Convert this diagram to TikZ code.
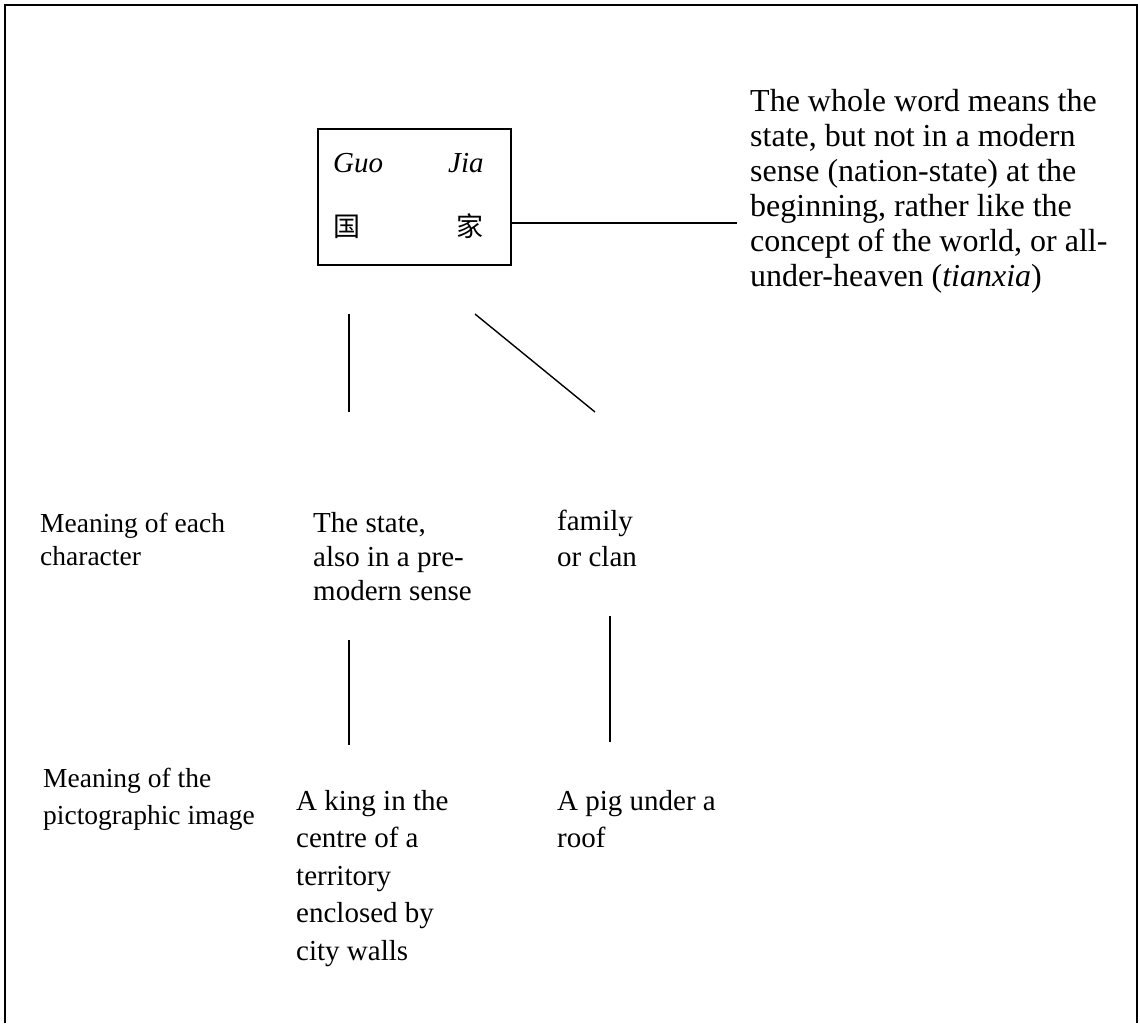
\documentclass[tikz,border=0pt]{standalone}
\usepackage{fontspec}
\setmainfont{Liberation Serif}
\newfontfamily\cjk{Noto Sans CJK SC}
\begin{document}
\begin{tikzpicture}[x=1pt,y=-1pt,
  txt/.style={anchor=base west,inner sep=0pt,align=left},
  big/.style={txt,font=\fontsize{32}{35}\selectfont},
  mid/.style={txt,font=\fontsize{29}{34}\selectfont},
  low/.style={txt,font=\fontsize{29}{37.5}\selectfont},
  lab/.style={txt,font=\fontsize{27.5}{33}\selectfont},
  conn/.style={line width=1.4pt},
  frame/.style={line width=2.5pt}]
\useasboundingbox (0,0) rectangle (1140,1023);
\draw[frame] (5,1023) -- (5,5) -- (1137,5) -- (1137,1023);
% word box
\node[draw,line width=1.6pt,minimum width=193pt,minimum height=136pt,inner sep=0pt,anchor=north west] (box) at (317,128) {};
\node[txt,font=\fontsize{29}{35}\selectfont\itshape] (guo) at (333,172) {Guo};
\node[txt,font=\fontsize{29}{35}\selectfont\itshape] (jia) at (448,172) {Jia};
\node[txt,font=\fontsize{27}{35}\cjk] (guoc) at (333,236) {国};
\node[txt,font=\fontsize{27}{35}\cjk] (jiac) at (456,236) {家};
% whole word meaning (anchor: baseline of last line)
\node[big] (whole) at (750,286) {The whole word means the\\state, but not in a modern\\sense (nation-state) at the\\beginning, rather like the\\concept of the world, or all-\\under-heaven (\textit{tianxia})};
\coordinate (wend) at (737,223);
\draw[conn] (box.east |- wend) -- (wend);
% connectors from box
\coordinate (v1a) at (349,314);
\coordinate (v1b) at (349,412);
\coordinate (d1a) at (475,314);
\coordinate (d1b) at (595,412);
\draw[conn] (v1a) -- (v1b);
\draw[conn] (d1a) -- (d1b);
% row 2
\node[lab] (lab1) at (40,565) {Meaning of each\\character};
\node[mid] (state) at (313,600) {The state,\\also in a pre-\\modern sense};
\node[txt,font=\fontsize{29}{36}\selectfont] (family) at (557,566) {family\\or clan};
% connectors row 2 to 3
\coordinate (v2a) at (349,640);
\coordinate (v2b) at (349,745);
\coordinate (v3a) at (610,616);
\coordinate (v3b) at (610,742);
\draw[conn] (v2a) -- (v2b);
\draw[conn] (v3a) -- (v3b);
% row 3
\node[txt,font=\fontsize{27.5}{37}\selectfont] (lab2) at (43,824) {Meaning of the\\pictographic image};
\node[low] (king) at (296,960) {A king in the\\centre of a\\territory\\enclosed by\\city walls};
\node[low] (pig) at (557,847.5) {A pig under a\\roof};
\end{tikzpicture}
\end{document}
